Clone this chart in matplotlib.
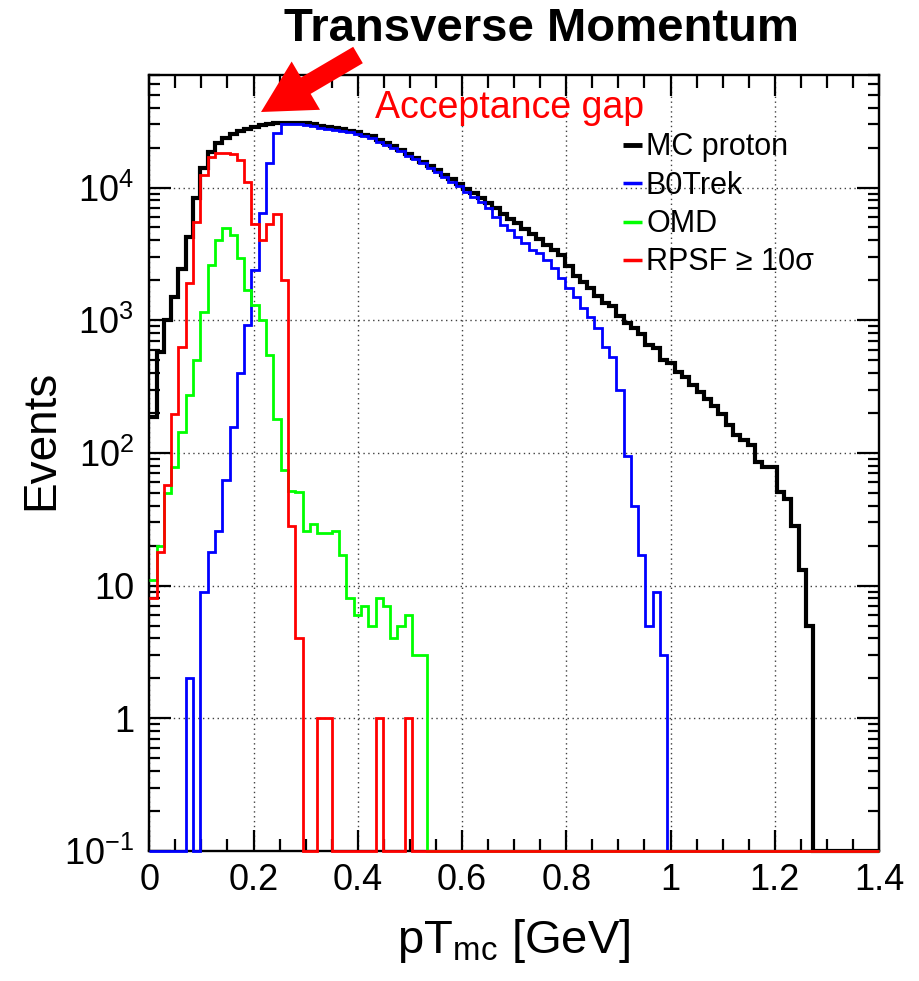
import numpy as np
import matplotlib
matplotlib.use("Agg")
import matplotlib.pyplot as plt
from matplotlib.ticker import MultipleLocator, LogLocator, FixedLocator, FixedFormatter, NullFormatter
from matplotlib.patches import FancyArrow

plt.rcParams['font.family'] = ['Liberation Sans', 'DejaVu Sans']
plt.rcParams['mathtext.fontset'] = 'custom'
plt.rcParams['mathtext.rm'] = 'Liberation Sans'
plt.rcParams['mathtext.it'] = 'Liberation Sans:italic'
plt.rcParams['mathtext.bf'] = 'Liberation Sans:bold'

# ---------------- data: 100 bins, 0 - 1.4 GeV ----------------
pt_min, pt_max, n_bins = 0.0, 1.4, 100

mc_proton = [187, 580, 1000, 1500, 2430, 4270, 8280, 14000, 18600, 21500,
             23500, 25200, 26600, 27700, 28700, 29600, 30000, 30400, 30800, 30900,
             30900, 30500, 29900, 29200, 28500, 28200, 27500, 26900, 26000, 25100,
             24300, 22900, 21600, 20400, 19300, 18000, 16800, 15700, 14600, 13500,
             12400, 11500, 10600, 9770, 9020, 8320, 7670, 7000, 6310, 5820,
             5370, 4900, 4470, 4070, 3720, 3390, 3090, 2570, 2140, 1950,
             1740, 1510, 1350, 1290, 1070, 955, 870, 794, 646, 617,
             501, 473, 407, 376, 324, 288, 257, 224, 195, 162,
             136, 126, 115, 86, 79, 78, 51, 45, 28, 13,
             5, 0, 0, 0, 0, 0, 0, 0, 0, 0]

b0trek = [0, 0, 0, 0, 0, 2, 0, 9, 18, 26,
          62, 156, 400, 920, 2390, 6450, 15200, 25900, 30100, 30000,
          29900, 29500, 29000, 28300, 27600, 27300, 26600, 26000, 25200, 24300,
          23500, 22200, 20900, 19700, 18700, 17400, 16300, 15200, 14100, 13100,
          12000, 11100, 10200, 9300, 8500, 7820, 6970, 6030, 5210, 4780,
          4260, 3790, 3380, 3200, 2840, 2460, 2070, 1740, 1500, 1230,
          1060, 869, 631, 531, 299, 94, 40, 17, 5, 9,
          3, 0, 0, 0, 0, 0, 0, 0, 0, 0,
          0, 0, 0, 0, 0, 0, 0, 0, 0, 0,
          0, 0, 0, 0, 0, 0, 0, 0, 0, 0]

omd = [11, 20, 50, 79, 145, 273, 500, 1160, 2600, 4020,
       4930, 4390, 2920, 1690, 1300, 1000, 547, 180, 74, 52,
       51, 26, 29, 25, 25, 26, 17, 8, 6, 7,
       5, 8, 7, 4, 5, 6, 3, 3, 0, 0] + [0] * 60

rpsf = [8, 18, 57, 196, 630, 1900, 5520, 12500, 17000, 18100,
        18100, 18000, 16100, 11100, 5310, 4020, 5310, 6310, 2000, 28,
        4, 0, 0, 1, 1, 0, 0, 0, 0, 0,
        0, 1, 0, 0, 0, 1, 0, 0, 0, 0] + [0] * 60

series_labels = ['MC proton', 'B0Trek', 'OMD', 'RPSF \u2265 10\u03c3']
series_colors = ['black', '#0000ff', '#00ff00', '#ff0000']
series_widths = [3.0, 2.0, 2.0, 2.0]

x_ticks = [0, 0.2, 0.4, 0.6, 0.8, 1.0, 1.2, 1.4]
x_tick_labels = ['0', '0.2', '0.4', '0.6', '0.8', '1', '1.2', '1.4']
y_ticks = [0.1, 1, 10, 100, 1000, 10000]
y_tick_labels = [r'$10^{-1}$', '1', '10', r'$10^{2}$', r'$10^{3}$', r'$10^{4}$']

# ---------------- figure ----------------
W, H = 919, 981
YMIN, YMAX = 0.1, 7.05e4
fig = plt.figure(figsize=(W / 100, H / 100), dpi=100)
ax = fig.add_axes([149.3 / W, 1 - 851 / H, (879 - 149.3) / W, (851 - 75) / H])

edges = np.linspace(pt_min, pt_max, n_bins + 1)
for vals, col, lw in zip([mc_proton, b0trek, omd, rpsf], series_colors, series_widths):
    v = np.asarray(vals, dtype=float)
    v = np.where(v <= 0, YMIN, v)
    ax.stairs(v, edges, baseline=None, color=col, lw=lw, clip_on=False, zorder=3)

ax.set_yscale('log')
ax.set_xlim(pt_min, pt_max)
ax.set_ylim(YMIN, YMAX)

ax.xaxis.set_major_locator(FixedLocator(x_ticks))
ax.xaxis.set_major_formatter(FixedFormatter(x_tick_labels))
ax.xaxis.set_minor_locator(MultipleLocator(0.05))
ax.yaxis.set_major_locator(FixedLocator(y_ticks))
ax.yaxis.set_major_formatter(FixedFormatter(y_tick_labels))
ax.yaxis.set_minor_locator(LogLocator(base=10, subs=np.arange(2, 10)))
ax.yaxis.set_minor_formatter(NullFormatter())

ax.tick_params(which='both', direction='in', top=True, right=True, width=1.6, labelsize=26)
ax.tick_params(axis='x', which='major', length=15, pad=9)
ax.tick_params(axis='x', which='minor', length=9)
ax.tick_params(axis='y', which='major', length=16, pad=11)
ax.tick_params(axis='y', which='minor', length=8)
for s in ax.spines.values():
    s.set_linewidth(1.7)

ax.set_axisbelow(True)
ax.grid(True, which='major', linestyle=(0, (1, 2.5)), linewidth=1.0, color='black', alpha=0.75)

ax.set_xlabel(r'pT$_{\mathrm{mc}}$ [GeV]', fontsize=34)
ax.set_ylabel('Events', fontsize=33)
ax.xaxis.set_label_coords(0.5, -0.085)
ax.yaxis.set_label_coords(-0.118, 0.53)

# ---------------- overlay (pixel coordinates) ----------------
ov = fig.add_axes([0, 0, 1, 1])
ov.set_xlim(0, W)
ov.set_ylim(H, 0)
ov.axis('off')
ov.patch.set_alpha(0)

ov.text(541, 29, 'Transverse Momentum', ha='center', va='center', fontsize=34, fontweight='bold')
ov.text(375, 118, 'Acceptance gap', color='#ff0000', fontsize=27, ha='left', va='baseline')

tail = np.array([358.0, 55.0])
tip = np.array([261.0, 112.0])
d = tip - tail
ov.add_patch(FancyArrow(tail[0], tail[1], d[0], d[1], width=19, head_width=56, head_length=52,
                        length_includes_head=True, color='#ff0000', lw=0, zorder=5))

leg_y = [144.5, 183.0, 221.5, 260.0]
for lab, col, lw, y in zip(series_labels, series_colors, series_widths, leg_y):
    ov.plot([623, 642], [y, y], color=col, lw=lw + 0.5, solid_capstyle='butt')
    ov.text(646, y + 10.5, lab, fontsize=22, ha='left', va='baseline')

fig.savefig('out.png', dpi=100)
